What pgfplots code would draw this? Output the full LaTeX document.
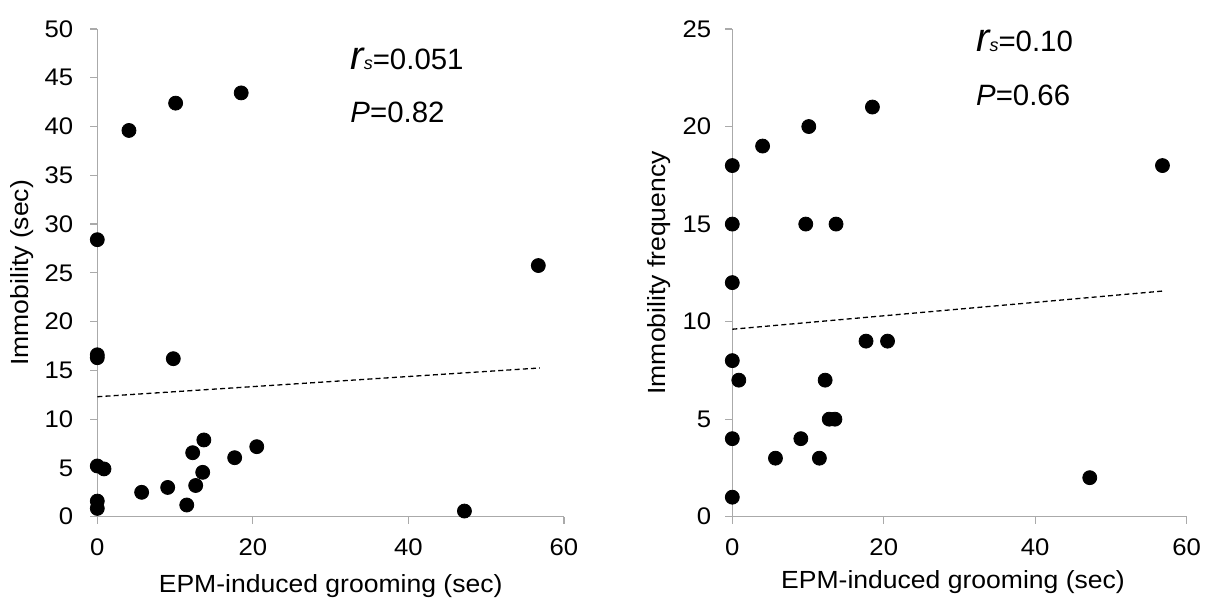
\documentclass[border=0pt]{standalone}
\usepackage{fontspec}
\setmainfont{Liberation Sans}[FakeStretch=1.07]
\newfontfamily\annfont{Liberation Sans}
\usepackage{pgfplots}
\pgfplotsset{compat=1.18}
\definecolor{axgray}{RGB}{170,170,170}

\pgfplotstableread{
x y
0 28.4
0 16.3
0 16.6
0 5.2
0 1.6
0 0.85
0.86 4.9
4.07 39.6
5.7 2.5
9.05 3.0
9.77 16.2
10.07 42.4
11.5 1.2
12.26 6.56
12.65 3.2
13.55 4.55
13.7 7.87
17.66 6.05
18.5 43.45
20.5 7.18
47.2 0.58
56.7 25.75
}\leftdata

\pgfplotstableread{
x y
0 18
0 15
0 12
0 8
0 4
0 1
0.86 7
4.0 19
5.7 3
9.05 4
9.7 15
10.1 20
11.5 3
12.26 7
12.8 5
13.55 5
13.7 15
17.66 9
18.5 21
20.5 9
47.2 2
56.8 18
}\rightdata

\pgfplotsset{
  myax/.style={
    scale only axis,
    axis x line=bottom, axis y line=left,
    axis line style={axgray, line width=0.6pt, -},
    every tick/.style={axgray, line width=0.6pt},
    tick align=outside,
    major tick length=3.5pt,
    xmin=0, xmax=60, xtick={0,20,40,60},
    ymin=0,
    /pgf/number format/assume math mode=true,
    tick label style={font=\fontsize{12}{14}\selectfont},
    xticklabel style={yshift=-4pt},
    label style={font=\fontsize{12.4}{14}\selectfont},
    clip=false,
  },
  pts/.style={only marks, mark=*, mark size=3.5pt, mark options={fill=black, draw=black}},
  trend/.style={black, line width=0.65pt, dash pattern=on 2.5pt off 1.6pt, no marks},
}
\newcommand{\rs}{{\fontsize{20}{20}\selectfont\itshape r}{\fontsize{9}{9}\selectfont\itshape s}}

\begin{document}
\begin{tikzpicture}
\useasboundingbox (0,0) rectangle (608pt,300.5pt);
\begin{axis}[myax,
  at={(48.65pt,42.15pt)}, anchor=origin,
  width=233.35pt, height=243.85pt,
  ymax=50, ytick={0,5,...,50},
  xlabel={EPM-induced grooming (sec)},
  ylabel={Immobility (sec)},
  xlabel style={at={(axis description cs:0.5,-0.142)}, anchor=center},
  ylabel style={at={(axis description cs:-0.161,0.5)}, anchor=center},
  yticklabel style={xshift=-5pt},
]
\addplot[trend] coordinates {(0,12.3) (56.9,15.25)};
\addplot[pts] table {\leftdata};
\node[anchor=base west, font=\annfont\fontsize{14.7}{16}\selectfont, inner sep=0pt] at (axis cs:32.5,45.8)
  {\rs=0.051};
\node[anchor=base west, font=\annfont\fontsize{14.7}{16}\selectfont, inner sep=0pt] at (axis cs:32.5,40.4)
  {\itshape P\upshape=0.82};
\end{axis}
\begin{axis}[myax,
  at={(366.15pt,42.15pt)}, anchor=origin,
  width=227.2pt, height=243.85pt,
  ymax=25, ytick={0,5,...,25},
  xlabel={EPM-induced grooming (sec)},
  ylabel={Immobility frequency},
  xlabel style={at={(axis description cs:0.4857,-0.134)}, anchor=center},
  ylabel style={at={(axis description cs:-0.1613,0.5)}, anchor=center},
  yticklabel style={xshift=-3.5pt},
]
\addplot[trend] coordinates {(0,9.61) (56.9,11.57)};
\addplot[pts] table {\rightdata};
\node[anchor=base west, font=\annfont\fontsize{14.7}{16}\selectfont, inner sep=0pt] at (axis cs:32.15,23.83)
  {\rs=0.10};
\node[anchor=base west, font=\annfont\fontsize{14.7}{16}\selectfont, inner sep=0pt] at (axis cs:32.15,21.1)
  {\itshape P\upshape=0.66};
\end{axis}
\end{tikzpicture}
\end{document}
